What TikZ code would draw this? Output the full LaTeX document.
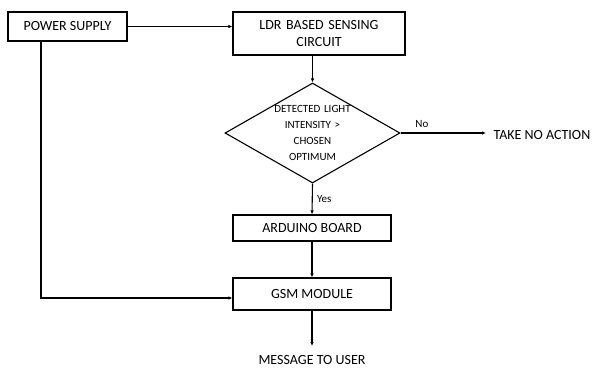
\documentclass[tikz,border=0pt]{standalone}
\usepackage{fontspec}
\setmainfont{Carlito}
\usetikzlibrary{positioning,shapes.geometric,arrows.meta}
\tikzset{
  blockbox/.style={rectangle,draw=black,line width=1.1pt,fill=white,
    text centered,inner sep=2pt,font=\fontsize{14}{17}\selectfont},
  decision/.style={diamond,draw=black,line width=1.1pt,text centered,
    aspect=1.75,inner sep=-2pt,minimum width=175pt,minimum height=100pt,
    text width=80pt,font=\fontsize{11}{16}\selectfont},
  arrow/.style={-{Latex[length=4pt,width=3.5pt]},draw=black,line width=1.1pt},
  plain/.style={font=\fontsize{14}{17}\selectfont},
  note/.style={font=\fontsize{11}{13}\selectfont}
}
\begin{document}
\begin{tikzpicture}[x=1pt,y=-1pt]
  \useasboundingbox (0,0) rectangle (602,370);
  \node[blockbox, minimum width=119pt, minimum height=29pt] (pwr) at (67.5,26.5)
    {POWER SUPPLY};
  \node[blockbox, minimum width=172pt, minimum height=43pt, text width=165pt] (ldr) at (319,33.5)
    {LDR BASED SENSING\\CIRCUIT};
  \node[decision] (cmp) at (312.5,133)
    {DETECTED LIGHT\\INTENSITY \textgreater\\CHOSEN\\OPTIMUM};
  \node[plain, anchor=west] (noact) at (490,135) {TAKE NO ACTION};
  \node[blockbox, minimum width=158pt, minimum height=26pt] (ard) at (312,228)
    {ARDUINO BOARD};
  \node[blockbox, minimum width=158pt, minimum height=32pt] (gsm) at (312,294)
    {GSM MODULE};
  \node[plain] (msg) at (312,360) {MESSAGE TO USER};
  \coordinate (pwrdown) at (41,298);
  \coordinate (noend) at (486,134);
  \coordinate (msgtop) at (312,346);
  \draw[arrow] (pwr.east) -- (ldr.west |- pwr.east);
  \draw[arrow] (ldr.south -| cmp.north) -- (cmp.north);
  \draw[arrow] (cmp.east) -- (noend |- cmp.east)
    node[note, pos=0.25, above=2pt] {No};
  \draw[arrow] (cmp.south) -- (ard.north)
    node[note, midway, right=1pt] {Yes};
  \draw[arrow] (ard.south) -- (gsm.north);
  \draw[arrow] (pwr.south -| pwrdown) -- (pwrdown) -- (gsm.west |- pwrdown);
  \draw[arrow] (gsm.south) -- (msgtop);
\end{tikzpicture}
\end{document}
